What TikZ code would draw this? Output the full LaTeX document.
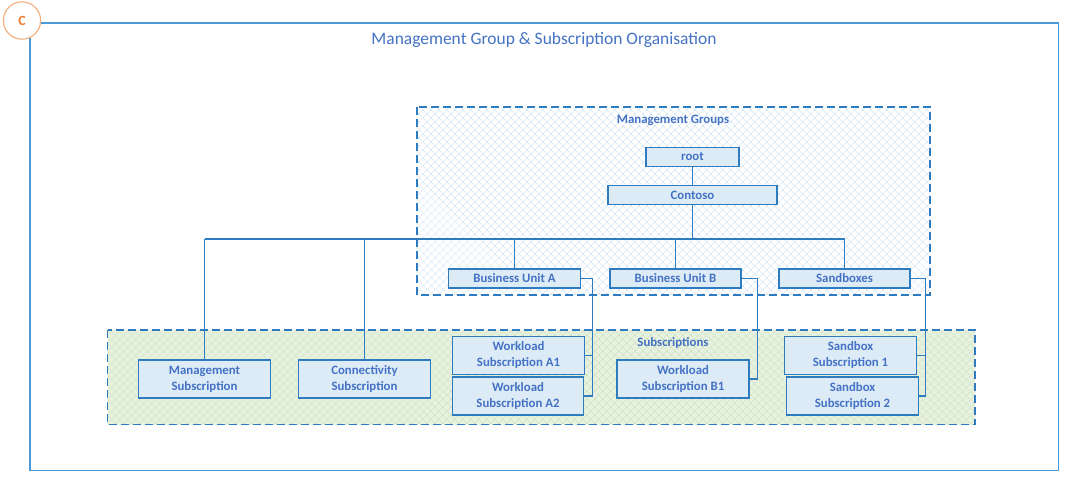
\documentclass[tikz,border=0pt]{standalone}
\usepackage{fontspec}
\setmainfont{Carlito}
\usetikzlibrary{patterns.meta}
\definecolor{frameblue}{HTML}{4A9ADA}
\definecolor{lineblue}{HTML}{2E7BC0}
\definecolor{boxfill}{HTML}{DDEBF7}
\definecolor{boxtext}{HTML}{4472C4}
\definecolor{mgfill}{HTML}{FFFFFF}
\definecolor{mghatch}{HTML}{D8E8F6}
\definecolor{subfill}{HTML}{E7F1DF}
\definecolor{subhatch}{HTML}{D2E3C4}
\definecolor{badge}{HTML}{F4B183}
\definecolor{badgetext}{HTML}{ED7D31}
\tikzset{
  box/.style={draw=lineblue, line width=0.9pt, fill=boxfill, text=boxtext,
    font=\fontsize{9.6pt}{12pt}\selectfont\bfseries, align=center,
    inner sep=0pt, anchor=center},
  wire/.style={draw=lineblue, line width=0.8pt},
  bus/.style={draw=lineblue, line width=1.3pt},
  grouprect/.style={draw=lineblue, line width=1.1pt, dash pattern=on 6pt off 3pt},
  grouplabel/.style={text=boxtext, font=\fontsize{9.6pt}{12pt}\selectfont\bfseries}
}
\newcommand{\hatchfill}[3]{% colour, hatch colour, rectangle corners
  \fill[#1] #3;
  \fill[pattern={Lines[angle=45,distance=4pt,line width=0.4pt]}, pattern color=#2] #3;
  \fill[pattern={Lines[angle=-45,distance=4pt,line width=0.4pt]}, pattern color=#2] #3;
}
\begin{document}
\begin{tikzpicture}[x=0.75pt,y=-0.75pt]
\useasboundingbox (0,0) rectangle (1077,489);

% outer frame and title
\draw[frameblue, line width=1pt] (30,23) rectangle (1058.5,470.5);
\node[text=boxtext, font=\fontsize{13.1pt}{15pt}\selectfont] (title) at (544,40) {Management Group \& Subscription Organisation};

% badge
\node[circle, draw=badge, fill=white, line width=0.9pt, minimum size=28pt, inner sep=0pt,
  text=badgetext, font=\fontsize{10.5pt}{12pt}\selectfont\bfseries] (badge) at (22,20.5) {C};

% group areas
\hatchfill{mgfill}{mghatch}{(417,107) rectangle (930,295)}
\draw[grouprect] (417,107) rectangle (930,295);
\node[grouplabel] (mglabel) at (673,120) {Management Groups};

\hatchfill{subfill}{subhatch}{(107.5,330) rectangle (975,424.5)}
\draw[grouprect] (107.5,330) rectangle (975,424.5);
\node[grouplabel] (sublabel) at (673,343) {Subscriptions};

% management group nodes
\node[box, minimum width=93*0.75pt, minimum height=18.5*0.75pt] (root) at (692.5,157) {root};
\node[box, minimum width=169*0.75pt, minimum height=19*0.75pt] (contoso) at (692.5,195) {Contoso};
\node[box, minimum width=132*0.75pt, minimum height=19*0.75pt] (bua) at (514.5,278.5) {Business Unit A};
\node[box, minimum width=131*0.75pt, minimum height=19*0.75pt] (bub) at (675.5,278.5) {Business Unit B};
\node[box, minimum width=131*0.75pt, minimum height=19*0.75pt] (sbx) at (844.5,278.5) {Sandboxes};

% subscription nodes
\node[box, minimum width=132.4*0.75pt, minimum height=38*0.75pt] (mgmt) at (204.5,379) {Management\\Subscription};
\node[box, minimum width=132*0.75pt, minimum height=38*0.75pt] (conn) at (364.5,379) {Connectivity\\Subscription};
\node[box, minimum width=131.6*0.75pt, minimum height=37.6*0.75pt] (wa1) at (518.5,355.5) {Workload\\Subscription A1};
\node[box, minimum width=131*0.75pt, minimum height=38*0.75pt] (wa2) at (518,396) {Workload\\Subscription A2};
\node[box, minimum width=132*0.75pt, minimum height=38*0.75pt] (wb1) at (683,379) {Workload\\Subscription B1};
\node[box, minimum width=132.4*0.75pt, minimum height=37.6*0.75pt] (sb1) at (850.5,355.5) {Sandbox\\Subscription 1};
\node[box, minimum width=131.6*0.75pt, minimum height=38*0.75pt] (sb2) at (852.5,396) {Sandbox\\Subscription 2};

% hierarchy connectors
\coordinate (hub) at (692.5,239);
\coordinate (busend) at (204.5,239);
\coordinate (ja) at (592.5,278.5);
\coordinate (jb) at (757.5,278.5);
\coordinate (js) at (925.5,278.5);

\draw[wire] (root) -- (contoso);
\draw[bus] (contoso.south) -- (hub) -- (busend);
\draw[wire] (busend) -- (mgmt.north);
\draw[wire] (hub) -| (conn.north);
\draw[wire] (hub) -| (bua.north);
\draw[wire] (hub) -| (bub.north);
\draw[wire] (hub) -| (sbx.north);

\draw[wire] (bua.east) -- (ja) |- (wa1.east);
\draw[wire] (ja) |- (wa2.east);
\draw[wire] (bub.east) -- (jb) |- (wb1.east);
\draw[wire] (sbx.east) -- (js) |- (sb1.east);
\draw[wire] (js) |- (sb2.east);
\end{tikzpicture}
\end{document}
